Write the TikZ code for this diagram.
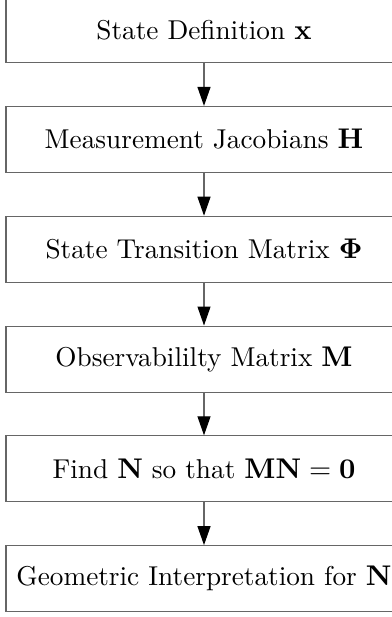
\documentclass[tikz,border=0pt]{standalone}
\usetikzlibrary{arrows.meta}
\begin{document}
\begin{tikzpicture}[x=0.3846pt,y=-0.3846pt,
  stepbox/.style={draw=black!60,line width=0.45pt,minimum width=396*0.3846pt,minimum height=66*0.3846pt,inner sep=0pt,font=\fontsize{10.48}{12.5}\selectfont},
  flow/.style={draw=black!60,line width=0.45pt,-{Triangle[length=19*0.3846pt,width=13*0.3846pt,color=black,fill=black]}}]
\useasboundingbox (0,0) rectangle (391,617);
\node[stepbox] (s1) at (204,29.7) {State Definition $\mathbf{x}$};
\node[stepbox] (s2) at (204,139.5) {Measurement Jacobians $\mathbf{H}$};
\node[stepbox] (s3) at (204,249.3) {State Transition Matrix $\mathbf{\Phi}$};
\node[stepbox] (s4) at (204,359.1) {Observabililty Matrix $\mathbf{M}$};
\node[stepbox] (s5) at (204,468.9) {Find $\mathbf{N}$ so that $\mathbf{MN}=\mathbf{0}$};
\node[stepbox] (s6) at (204,578.7) {Geometric Interpretation for $\mathbf{N}$};
\draw[flow] (s1) -- (s2);
\draw[flow] (s2) -- (s3);
\draw[flow] (s3) -- (s4);
\draw[flow] (s4) -- (s5);
\draw[flow] (s5) -- (s6);
\end{tikzpicture}
\end{document}
